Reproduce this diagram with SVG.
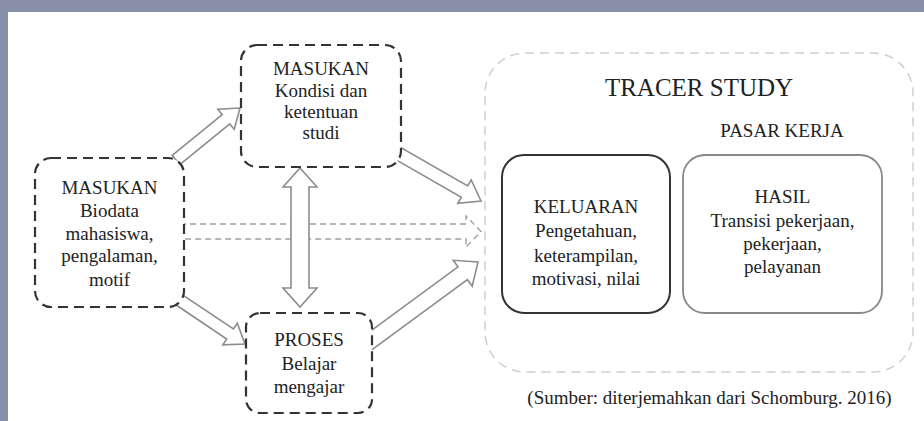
<svg xmlns="http://www.w3.org/2000/svg" width="924" height="421" viewBox="0 0 924 421">
<style>
.frame{fill:#8890a9}
.box{fill:#fff;stroke:#333;stroke-width:2.2;stroke-dasharray:10 6}
.arrow{fill:#fff;stroke:#8c8c8c;stroke-width:1.6;stroke-linejoin:miter}
.darrow{fill:none;stroke:#a0a0a0;stroke-width:1.4;stroke-dasharray:6 4}
.outer{fill:none;stroke:#cfcfcf;stroke-width:1.5;stroke-dasharray:9 6}
.solid1{fill:#fff;stroke:#333;stroke-width:2}
.solid2{fill:#fff;stroke:#888;stroke-width:1.8}
text{font-family:"Liberation Serif","Times New Roman",serif;fill:#222;text-anchor:middle;font-size:19px}
</style>
<rect x="0" y="0" width="924" height="421" fill="#fff"/>
<rect class="frame" x="0" y="0" width="924" height="12"/>
<rect class="frame" x="0" y="0" width="8" height="421"/>

<g id="connectors">
  <polygon class="darrow" points="180,224 466,224 466,216 481,231.5 466,247 466,239 180,239"/>
  <polygon class="arrow" points="179.8,164.7 229.8,124.0 234.2,129.4 240,108 217.8,109.2 222.2,114.7 172.2,155.3"/>
  <polygon class="arrow" points="171.7,302.0 226.7,339.0 222.8,344.8 245,344 237.3,323.2 233.4,329.0 178.3,292.0"/>
  <polygon class="arrow" points="388.8,155.6 461.3,197.2 457.8,203.3 481,201 471.2,179.9 467.7,185.9 395.2,144.4"/>
  <polygon class="arrow" points="369.7,351.4 467.4,279.7 472.2,286.1 478,262 453.2,260.3 458.0,266.8 360.3,338.6"/>
  <polygon class="arrow" points="300,168 317,187 309,187 309,288 317,288 300,307 283,288 291,288 291,187 283,187"/>
</g>

<g id="masukan-biodata">
  <rect class="box" x="35" y="158" width="149" height="149" rx="16"/>
  <text x="109.5" y="194">MASUKAN</text>
  <text x="109.5" y="217">Biodata</text>
  <text x="109.5" y="240">mahasiswa,</text>
  <text x="109.5" y="262">pengalaman,</text>
  <text x="109.5" y="286">motif</text>
</g>

<g id="masukan-kondisi">
  <rect class="box" x="241" y="45" width="160" height="122" rx="16"/>
  <text x="321" y="75">MASUKAN</text>
  <text x="321" y="97">Kondisi dan</text>
  <text x="321" y="118">ketentuan</text>
  <text x="321" y="139">studi</text>
</g>

<g id="proses">
  <rect class="box" x="246" y="313" width="126" height="100" rx="14"/>
  <text x="309" y="346">PROSES</text>
  <text x="309" y="370">Belajar</text>
  <text x="309" y="393">mengajar</text>
</g>

<g id="tracer-study">
  <rect class="outer" x="485" y="53" width="428" height="319" rx="40"/>
  <text x="699" y="96" style="font-size:25px">TRACER STUDY</text>
  <text x="782" y="137">PASAR KERJA</text>
</g>

<g id="keluaran">
  <rect class="solid1" x="502" y="155" width="168" height="158" rx="22"/>
  <text x="586" y="213">KELUARAN</text>
  <text x="586" y="237">Pengetahuan,</text>
  <text x="586" y="262">keterampilan,</text>
  <text x="586" y="285">motivasi, nilai</text>
</g>

<g id="hasil">
  <rect class="solid2" x="683" y="155" width="199" height="158" rx="22"/>
  <text x="782.5" y="203">HASIL</text>
  <text x="782.5" y="227">Transisi pekerjaan,</text>
  <text x="782.5" y="250">pekerjaan,</text>
  <text x="782.5" y="273">pelayanan</text>
</g>

<g id="caption">
  <text x="709.5" y="404">(Sumber: diterjemahkan dari Schomburg. 2016)</text>
</g>
</svg>
